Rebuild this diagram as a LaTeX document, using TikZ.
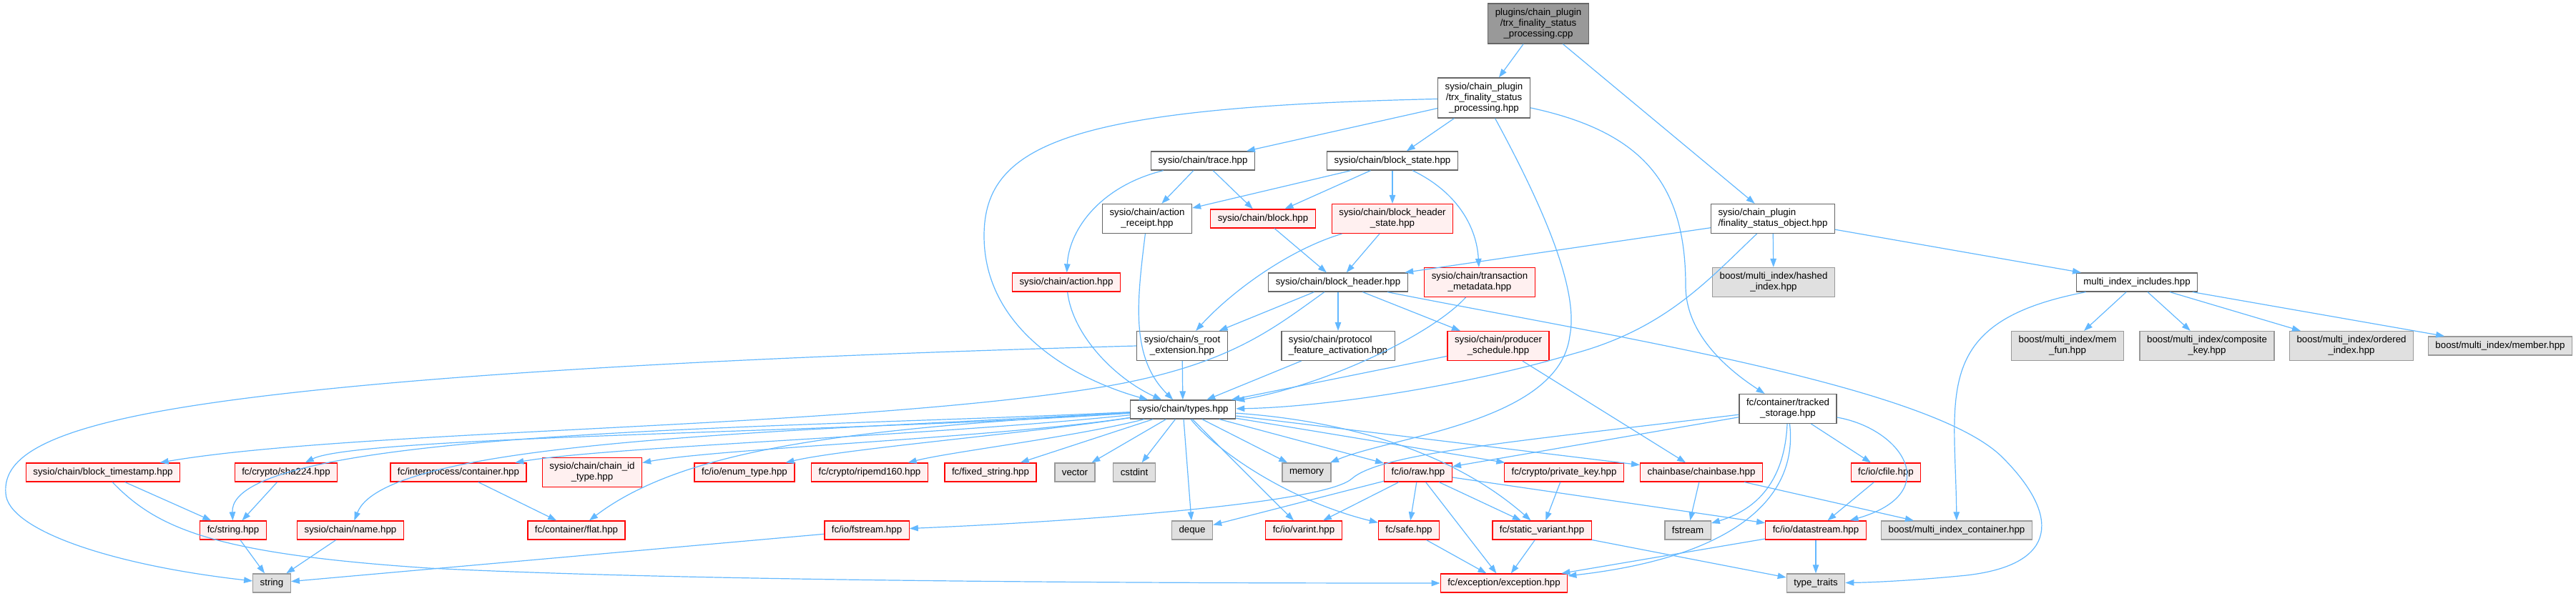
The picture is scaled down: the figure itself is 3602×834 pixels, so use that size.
\documentclass[tikz,border=0pt]{standalone}
\usepackage{fontspec}
\setmainfont{Liberation Sans}
\usepackage{tikz}
\usetikzlibrary{arrows.meta}
\definecolor{edgeblue}{HTML}{63B8FF}
\definecolor{hdrgray}{HTML}{666666}
\definecolor{sysgray}{HTML}{999999}
\definecolor{sysfill}{HTML}{E0E0E0}
\definecolor{trfill}{HTML}{FFF0F0}
\definecolor{rootfill}{HTML}{999999}
\tikzset{
  >={Triangle[length=12pt,width=8.5pt]},
  hdr/.style={draw=hdrgray,fill=white,line width=1.3pt,inner xsep=10pt,
    inner ysep=6.75pt,minimum height=26pt,align=center,
    font=\fontsize{13.3pt}{15pt}\selectfont},
  hdrtr/.style={hdr,draw=red,fill=trfill},
  hdrsys/.style={hdr,draw=sysgray,fill=sysfill},
  hdrroot/.style={hdr,fill=rootfill},
  incl/.style={->,draw=edgeblue,line width=1.2pt},
}
\begin{document}
\begin{tikzpicture}[x=1pt,y=-1pt]
  \useasboundingbox (0,0) rectangle (3602,834);
  \node[hdrroot] (root) at (2151,33) {plugins/chain\_plugin\\/trx\_finality\_status\\\_processing.cpp};
  \node[hdr] (tfsp) at (2075,137) {sysio/chain\_plugin\\/trx\_finality\_status\\\_processing.hpp};
  \node[hdr] (trace) at (1682,225) {sysio/chain/trace.hpp};
  \node[hdr] (bstate) at (1947,225) {sysio/chain/block\_state.hpp};
  \node[hdr] (areceipt) at (1604,306) {sysio/chain/action\\\_receipt.hpp};
  \node[hdrtr] (block) at (1766,306) {sysio/chain/block.hpp};
  \node[hdrtr] (bhstate) at (1947,306) {sysio/chain/block\_header\\\_state.hpp};
  \node[hdr,align=left] (fso) at (2479,306) {sysio/chain\_plugin\\/finality\_status\_object.hpp};
  \node[hdrtr] (action) at (1491,395) {sysio/chain/action.hpp};
  \node[hdr] (bheader) at (1871,395) {sysio/chain/block\_header.hpp};
  \node[hdrtr] (tmeta) at (2069,395) {sysio/chain/transaction\\\_metadata.hpp};
  \node[hdrsys] (hashed) at (2480,395) {boost/multi\_index/hashed\\\_index.hpp};
  \node[hdr] (mii) at (2988,395) {multi\_index\_includes.hpp};
  \node[hdr] (sroot) at (1653,484) {sysio/chain/s\_root\\\_extension.hpp};
  \node[hdr,align=left] (pfa) at (1871,484) {sysio/chain/protocol\\\_feature\_activation.hpp};
  \node[hdrtr] (psched) at (2095,484) {sysio/chain/producer\\\_schedule.hpp};
  \node[hdrsys] (memfun) at (2891,484) {boost/multi\_index/mem\\\_fun.hpp};
  \node[hdrsys] (compkey) at (3086,484) {boost/multi\_index/composite\\\_key.hpp};
  \node[hdrsys] (ordidx) at (3288,484) {boost/multi\_index/ordered\\\_index.hpp};
  \node[hdrsys] (member) at (3496,484) {boost/multi\_index/member.hpp};
  \node[hdr] (types) at (1654,573) {sysio/chain/types.hpp};
  \node[hdr] (tracked) at (2500,572) {fc/container/tracked\\\_storage.hpp};
  \node[hdrtr] (btime) at (144,661) {sysio/chain/block\_timestamp.hpp};
  \node[hdrtr] (sha) at (400,661) {fc/crypto/sha224.hpp};
  \node[hdrtr] (ipc) at (641,661) {fc/interprocess/container.hpp};
  \node[hdrtr] (chainid) at (828,661) {sysio/chain/chain\_id\\\_type.hpp};
  \node[hdrtr] (enumt) at (1041,661) {fc/io/enum\_type.hpp};
  \node[hdrtr] (ripemd) at (1216,661) {fc/crypto/ripemd160.hpp};
  \node[hdrtr] (fixstr) at (1385,661) {fc/fixed\_string.hpp};
  \node[hdrsys] (vec) at (1503,661) {vector};
  \node[hdrsys] (cstdint) at (1586,661) {cstdint};
  \node[hdrsys] (memory) at (1827,661) {memory};
  \node[hdrtr] (raw) at (1983,661) {fc/io/raw.hpp};
  \node[hdrtr] (privkey) at (2187,661) {fc/crypto/private\_key.hpp};
  \node[hdrtr] (chainbase) at (2379,661) {chainbase/chainbase.hpp};
  \node[hdrtr] (cfile) at (2637,661) {fc/io/cfile.hpp};
  \node[hdrtr] (fcstring) at (326,742) {fc/string.hpp};
  \node[hdrtr] (name) at (490,742) {sysio/chain/name.hpp};
  \node[hdrtr] (flat) at (806,742) {fc/container/flat.hpp};
  \node[hdrtr] (fstreamh) at (1212,742) {fc/io/fstream.hpp};
  \node[hdrsys] (deque) at (1667,742) {deque};
  \node[hdrtr] (varint) at (1823,742) {fc/io/varint.hpp};
  \node[hdrtr] (safe) at (1970,742) {fc/safe.hpp};
  \node[hdrtr] (svariant) at (2156,742) {fc/static\_variant.hpp};
  \node[hdrsys] (fstream) at (2360,742) {fstream};
  \node[hdrtr] (dstream) at (2539,742) {fc/io/datastream.hpp};
  \node[hdrsys] (mic) at (2736,742) {boost/multi\_index\_container.hpp};
  \node[hdrsys] (string) at (380,816) {string};
  \node[hdrtr] (except) at (2103,816) {fc/exception/exception.hpp};
  \node[hdrsys] (ttraits) at (2539,816) {type\_traits};
  \draw[incl] (root) -- (tfsp);
  \draw[incl] (root) -- (fso);
  \draw[incl] (tfsp) -- (trace);
  \draw[incl] (tfsp) -- (bstate);
  \draw[incl] (tfsp) .. controls (1500,150) and (1376,200) .. (1376,330)
    .. controls (1376,460) and (1500,530) .. (types);
  \draw[incl] (tfsp) .. controls (2180,330) and (2205,420) .. (2195,470)
    .. controls (2180,590) and (1950,610) .. (memory);
  \draw[incl] (tfsp) .. controls (2300,185) and (2357,260) .. (2357,400)
    .. controls (2357,470) and (2420,520) .. (tracked);
  \draw[incl] (trace) -- (areceipt);
  \draw[incl] (trace) -- (block);
  \draw[incl] (trace) .. controls (1540,260) and (1495,320) .. (action);
  \draw[incl] (bstate) -- (areceipt);
  \draw[incl] (bstate) -- (block);
  \draw[incl] (bstate) -- (bhstate);
  \draw[incl] (bstate) .. controls (2040,270) and (2065,320) .. (tmeta);
  \draw[incl] (areceipt) .. controls (1590,420) and (1580,500) .. (types);
  \draw[incl] (action) .. controls (1500,470) and (1560,530) .. (types);
  \draw[incl] (block) -- (bheader);
  \draw[incl] (bhstate) -- (bheader);
  \draw[incl] (bhstate) .. controls (1800,350) and (1720,410) .. (sroot);
  \draw[incl] (bheader) -- (sroot);
  \draw[incl] (bheader) .. controls (1780,460) and (1720,510) .. (1550,540)
    .. controls (1200,600) and (500,600) .. (btime);
  \draw[incl] (bheader) -- (pfa);
  \draw[incl] (bheader) -- (psched);
  \draw[incl] (bheader) .. controls (2250,470) and (2700,540) .. (2800,640)
    .. controls (2880,720) and (2880,790) .. (2750,805)
    .. controls (2680,812) and (2620,815) .. (ttraits);
  \draw[incl] (fso) -- (bheader);
  \draw[incl] (fso) -- (hashed);
  \draw[incl] (fso) -- (mii);
  \draw[incl] (fso) .. controls (2390,390) and (2330,460) .. (2200,495)
    .. controls (2050,540) and (1850,570) .. (types);
  \draw[incl] (tmeta) .. controls (2000,470) and (1850,540) .. (types);
  \draw[incl] (pfa) -- (types);
  \draw[incl] (psched) -- (types);
  \draw[incl] (psched) -- (chainbase);
  \draw[incl] (sroot) -- (types);
  \draw[incl] (sroot.west) .. controls (1000,500) and (450,530) .. (200,580)
    .. controls (40,612) and (5,650) .. (8,690)
    .. controls (10,740) and (150,790) .. (string);
  \draw[incl] (types) .. controls (1200,605) and (500,610) .. (sha);
  \draw[incl] (types) .. controls (1100,600) and (320,600) .. (fcstring);
  \draw[incl] (types) .. controls (1100,605) and (540,615) .. (name);
  \draw[incl] (types) .. controls (1300,610) and (850,625) .. (ipc);
  \draw[incl] (types) .. controls (1400,612) and (1000,628) .. (chainid);
  \draw[incl] (types) .. controls (1200,600) and (960,625) .. (flat);
  \draw[incl] (types) .. controls (1450,605) and (1180,628) .. (enumt);
  \draw[incl] (types) .. controls (1500,612) and (1330,632) .. (ripemd);
  \draw[incl] (types) -- (fixstr);
  \draw[incl] (types) -- (vec);
  \draw[incl] (types) -- (cstdint);
  \draw[incl] (types) -- (deque);
  \draw[incl] (types) .. controls (1720,640) and (1780,700) .. (varint);
  \draw[incl] (types) .. controls (1700,630) and (1800,700) .. (safe);
  \draw[incl] (types) -- (memory);
  \draw[incl] (types) -- (raw);
  \draw[incl] (types) -- (privkey);
  \draw[incl] (types) -- (chainbase);
  \draw[incl] (types) .. controls (1900,590) and (2040,640) .. (svariant);
  \draw[incl] (tracked) -- (raw);
  \draw[incl] (tracked) .. controls (2100,620) and (1930,635) .. (1890,670)
    .. controls (1850,705) and (1500,730) .. (fstreamh);
  \draw[incl] (tracked) -- (cfile);
  \draw[incl] (tracked) .. controls (2495,680) and (2450,715) .. (fstream);
  \draw[incl] (tracked) .. controls (2515,700) and (2420,780) .. (except);
  \draw[incl] (tracked) .. controls (2660,600) and (2720,690) .. (dstream);
  \draw[incl] (raw) -- (deque);
  \draw[incl] (raw) -- (varint);
  \draw[incl] (raw) -- (safe);
  \draw[incl] (raw) -- (except);
  \draw[incl] (raw) -- (svariant);
  \draw[incl] (raw) -- (dstream);
  \draw[incl] (privkey) -- (svariant);
  \draw[incl] (chainbase) -- (fstream);
  \draw[incl] (chainbase) -- (mic);
  \draw[incl] (cfile) -- (dstream);
  \draw[incl] (svariant) -- (except);
  \draw[incl] (svariant) -- (ttraits);
  \draw[incl] (dstream) -- (except);
  \draw[incl] (dstream) -- (ttraits);
  \draw[incl] (safe) -- (except);
  \draw[incl] (btime) -- (fcstring);
  \draw[incl] (btime) .. controls (220,740) and (300,775) .. (600,795)
    .. controls (1000,815) and (1700,816) .. (except);
  \draw[incl] (sha) -- (fcstring);
  \draw[incl] (fcstring) -- (string);
  \draw[incl] (name) -- (string);
  \draw[incl] (ipc) -- (flat);
  \draw[incl] (fstreamh) -- (string);
  \draw[incl] (mii) -- (memfun);
  \draw[incl] (mii) -- (compkey);
  \draw[incl] (mii) -- (ordidx);
  \draw[incl] (mii) -- (member);
  \draw[incl] (mii) .. controls (2700,450) and (2734,550) .. (mic);
\end{tikzpicture}
\end{document}
